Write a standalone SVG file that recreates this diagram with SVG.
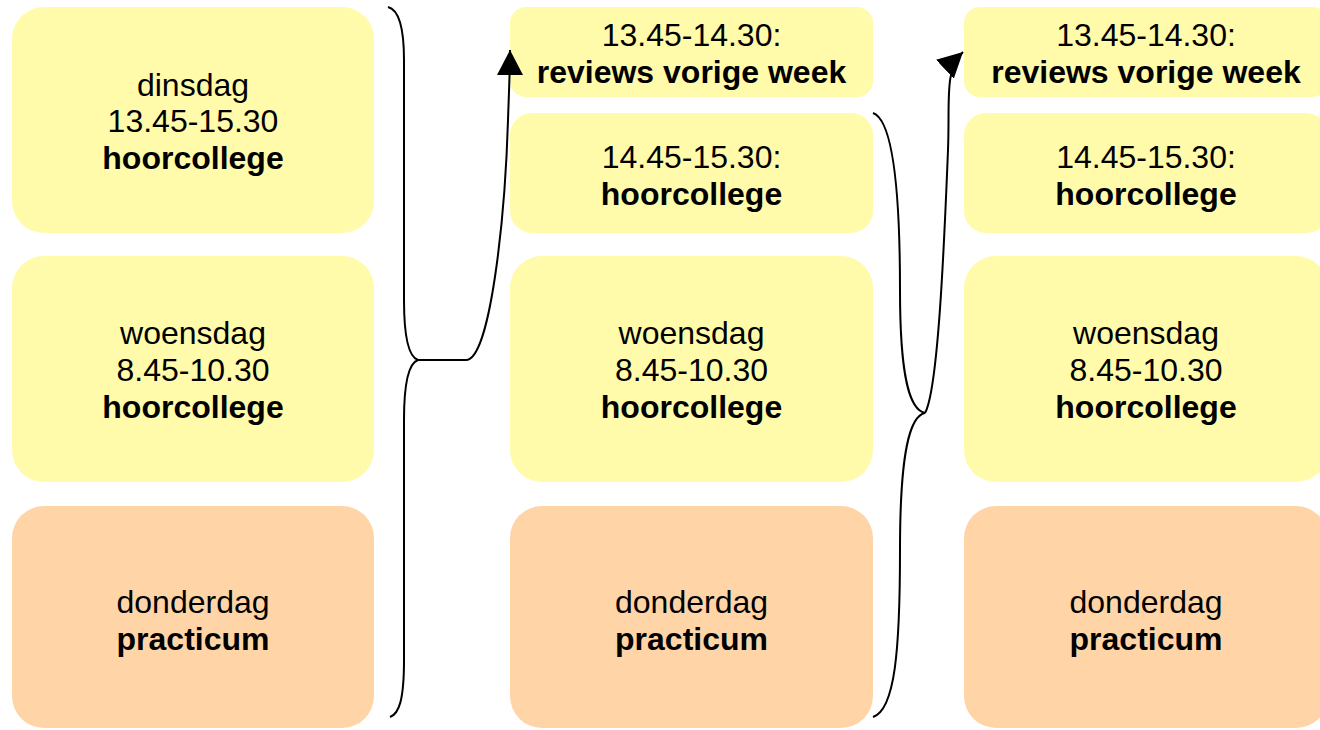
<svg xmlns="http://www.w3.org/2000/svg" width="1320" height="730" viewBox="0 0 1320 730">
<defs>
<style>
.y{fill:#FFFBAA}
.o{fill:#FFD5A8}
text{font-family:"Liberation Sans",Arial,sans-serif;font-size:32px;fill:#000;text-anchor:middle}
.b{font-weight:bold}
.c{fill:none;stroke:#000;stroke-width:2}
</style>
<marker id="ah" viewBox="0 0 25 26" refX="25" refY="13" markerWidth="25" markerHeight="26" markerUnits="userSpaceOnUse" orient="auto">
<path d="M0,0 L25,13 L0,26 z" fill="#000"/>
</marker>
</defs>
<rect width="1320" height="730" fill="#fff"/>
<g id="l1"><rect class="y" x="12" y="7" width="362" height="226" rx="32"/><text x="193" y="96">dinsdag</text><text x="193" y="132">13.45-15.30</text><text class="b" x="193" y="169">hoorcollege</text></g>
<g id="l2"><rect class="y" x="12" y="256" width="362" height="226" rx="32"/><text x="193" y="344">woensdag</text><text x="193" y="381">8.45-10.30</text><text class="b" x="193" y="418">hoorcollege</text></g>
<g id="l3"><rect class="o" x="12" y="506" width="362" height="222" rx="32"/><text x="193" y="613">donderdag</text><text class="b" x="193" y="650">practicum</text></g>
<g id="m1"><rect class="y" x="510" y="7" width="363" height="90" rx="16"/><text x="691.5" y="46">13.45-14.30:</text><text class="b" x="691.5" y="83">reviews vorige week</text></g>
<g id="m2"><rect class="y" x="510" y="113" width="363" height="120" rx="22"/><text x="691.5" y="168">14.45-15.30:</text><text class="b" x="691.5" y="205">hoorcollege</text></g>
<g id="m3"><rect class="y" x="510" y="256" width="363" height="226" rx="32"/><text x="691.5" y="344">woensdag</text><text x="691.5" y="381">8.45-10.30</text><text class="b" x="691.5" y="418">hoorcollege</text></g>
<g id="m4"><rect class="o" x="510" y="506" width="363" height="222" rx="32"/><text x="691.5" y="613">donderdag</text><text class="b" x="691.5" y="650">practicum</text></g>
<g id="r1"><rect class="y" x="964" y="7" width="364" height="90" rx="16"/><text x="1146" y="46">13.45-14.30:</text><text class="b" x="1146" y="83">reviews vorige week</text></g>
<g id="r2"><rect class="y" x="964" y="113" width="364" height="120" rx="22"/><text x="1146" y="168">14.45-15.30:</text><text class="b" x="1146" y="205">hoorcollege</text></g>
<g id="r3"><rect class="y" x="964" y="256" width="364" height="226" rx="32"/><text x="1146" y="344">woensdag</text><text x="1146" y="381">8.45-10.30</text><text class="b" x="1146" y="418">hoorcollege</text></g>
<g id="r4"><rect class="o" x="964" y="506" width="364" height="222" rx="32"/><text x="1146" y="613">donderdag</text><text class="b" x="1146" y="650">practicum</text></g>
<g id="connectors">
<path class="c" d="M388,7 C400,10 404,30 404,60 L404,300 C404,340 409,357 418,360 C409,363 404,380 404,420 L404,660 C404,700 399,714 390,717"/>
<path class="c" d="M418,360 L466,360 C490,360 505,220 508,120 C509,90 510,70 510,50" marker-end="url(#ah)"/>
<path class="c" d="M873,113 C893,120 900,190 900,290 C900,380 910,410 925,413 C910,416 900,450 900,550 C900,650 895,710 873,717"/>
<path class="c" d="M925,413 C938,390 944,250 948,150 C950,100 944,70 963,52" marker-end="url(#ah)"/>
</g>
</svg>
